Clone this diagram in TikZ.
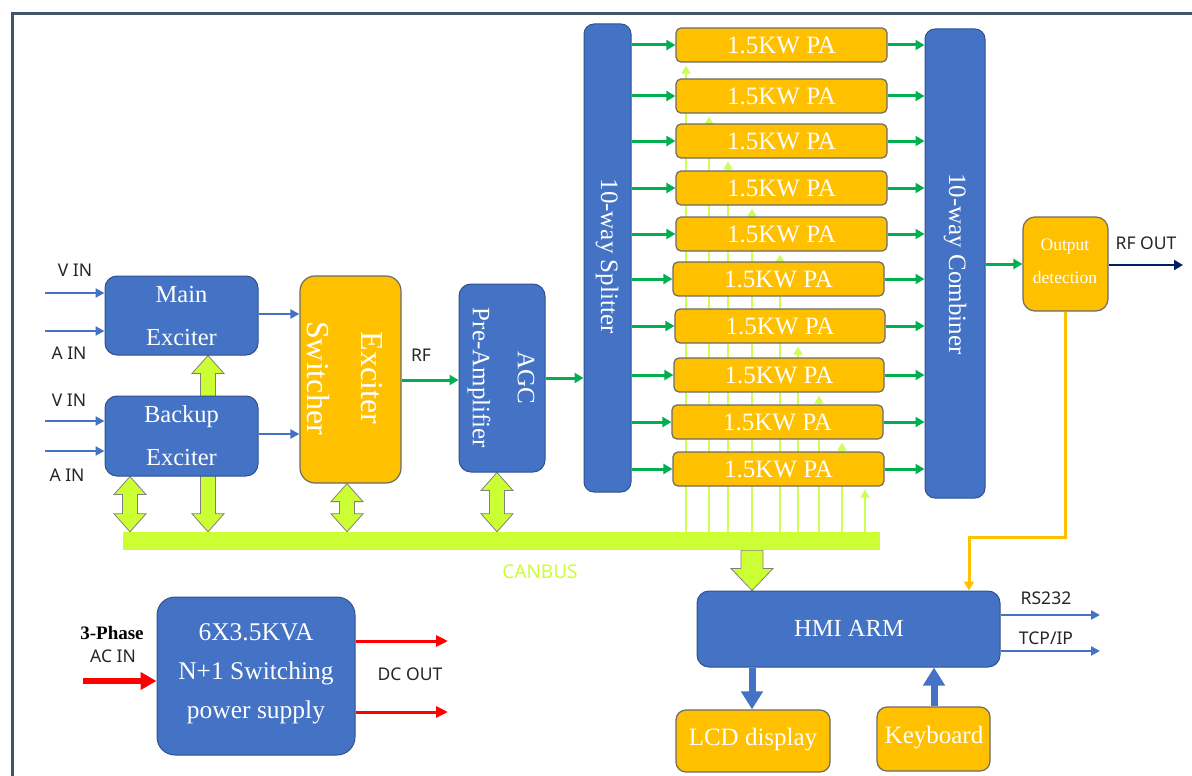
\documentclass[tikz,border=0pt]{standalone}
\usepackage{fontspec}
\setmainfont{Liberation Serif}
\newfontfamily\sansf{Noto Sans}
\usetikzlibrary{arrows.meta,calc,backgrounds}
\definecolor{bblue}{HTML}{4472C4}
\definecolor{bedge}{HTML}{2F528F}
\definecolor{orng}{HTML}{FFC000}
\definecolor{oedge}{HTML}{6B6B6B}
\definecolor{grn}{HTML}{00B050}
\definecolor{lime}{HTML}{CCFF33}
\definecolor{limel}{HTML}{CCFF55}
\definecolor{navy}{HTML}{002060}
\definecolor{redc}{HTML}{FF0000}
\definecolor{framec}{HTML}{44546A}
\definecolor{txt}{HTML}{262626}
\newcommand\dblarr[2]{\draw[blockarr] let \p1=(#1), \p2=(#2) in
  (\x1,\y1) -- (\x1+16pt,\y1-18pt) -- (\x1+7.5pt,\y1-18pt) -- (\x1+7.5pt,\y2+18pt)
  -- (\x1+16pt,\y2+18pt) -- (\x1,\y2) -- (\x1-16pt,\y2+18pt) -- (\x1-7.5pt,\y2+18pt)
  -- (\x1-7.5pt,\y1-18pt) -- (\x1-16pt,\y1-18pt) -- cycle;}
\begin{document}
\begin{tikzpicture}[x=1pt,y=-1pt,
  bluebox/.style={draw=bedge,line width=1pt,fill=bblue,rounded corners=12pt,inner sep=0pt},
  orbox/.style={draw=oedge,line width=1.2pt,fill=orng,rounded corners=12pt,inner sep=0pt},
  pabox/.style={draw=oedge,line width=1.2pt,fill=orng,rounded corners=5pt,inner sep=0pt,
     minimum height=34pt,text=white,font=\fontsize{25pt}{27pt}\selectfont},
  wtext/.style={text=white,align=center,inner sep=0pt},
  lbl/.style={text=txt,inner sep=0pt,font=\sansf\fontsize{17.5pt}{19pt}\selectfont},
  garr/.style={draw=grn,line width=3pt,-{Triangle[width=10pt,length=9pt]}},
  barr/.style={draw=bblue,line width=2.5pt,-{Triangle[width=9pt,length=9pt]}},
  rarr/.style={draw=redc,line width=3pt,-{Triangle[width=11pt,length=12pt]}},
  thinl/.style={draw=limel,line width=2.8pt,-{Triangle[width=9pt,length=8pt]},shorten >=3pt},
  blockarr/.style={draw=gray,line width=0.8pt,fill=lime},
]
\useasboundingbox (0,0) rectangle (1192,776);
\begin{scope}
\clip (0,0) rectangle (1192,776);
\draw[framec,line width=3pt] (12,14) rectangle (1230,820);
\end{scope}

% ---- main nodes
\node[bluebox,minimum width=153pt,minimum height=79pt] (me) at (181.5,315.5) {};
\node[wtext,font=\fontsize{24.5pt}{43pt}\selectfont] (met) at (181.5,316) {Main\\Exciter};
\node[bluebox,minimum width=153pt,minimum height=80pt] (be) at (181.5,436) {};
\node[wtext,font=\fontsize{24.5pt}{43pt}\selectfont] (bet) at (181.5,436) {Backup\\Exciter};
\node[orbox,rounded corners=15pt,minimum width=101pt,minimum height=207pt] (sw) at (350.5,379.5) {};
\node[wtext,rotate=-90,font=\fontsize{32pt}{54pt}\selectfont] (swt) at (345,378) {Exciter\\Switcher};
\node[bluebox,minimum width=86pt,minimum height=188pt] (agc) at (502,378) {};
\node[wtext,rotate=-90,font=\fontsize{25pt}{45pt}\selectfont] (agct) at (501,378) {AGC\\Pre-Amplifier};
\node[bluebox,rounded corners=10pt,minimum width=47pt,minimum height=468pt] (split) at (607.5,258) {};
\node[wtext,rotate=-90,font=\fontsize{25pt}{27pt}\selectfont] (splitt) at (607,256) {10-way Splitter};
\node[bluebox,rounded corners=10pt,minimum width=60pt,minimum height=469pt] (comb) at (955,263.5) {};
\node[wtext,rotate=-90,font=\fontsize{25pt}{27pt}\selectfont] (combt) at (955,264) {10-way Combiner};
\node[orbox,minimum width=85pt,minimum height=94pt] (od) at (1065.5,264) {};
\node[wtext,font=\fontsize{17.5pt}{33pt}\selectfont] (odt) at (1065,261.5) {Output\\detection};

\foreach \i/\cy/\cx/\w in {1/45/781.5/211, 2/96/781.5/211, 3/141/781.5/211, 4/188/781.5/211,
   5/234/781.5/211, 6/279/778.5/211, 7/326/780/210, 8/375/779/210, 9/422/777.5/211, 10/469/778.5/211}{
  \node[pabox,minimum width=\w pt] (pa\i) at (\cx,\cy) {1.5KW PA};
  \draw[garr] (pa\i.west -| split.east) -- (pa\i.west);
  \draw[garr] (pa\i.east) -- (pa\i.east -| comb.west);
}

\node[fill=lime,inner sep=0pt,minimum width=757pt,minimum height=18pt] (bus) at (501.5,541) {};
\node[inner sep=0pt,text=lime,font=\sansf\fontsize{19pt}{21pt}\selectfont] (bust) at (540,572) {CANBUS};

\node[bluebox,minimum width=303pt,minimum height=76pt] (hmi) at (848.5,629) {};
\node[wtext,font=\fontsize{24.5pt}{26pt}\selectfont] (hmit) at (849,628) {HMI ARM};
\node[orbox,rounded corners=10pt,minimum width=154pt,minimum height=62pt] (lcd) at (753,741) {};
\node[wtext,font=\fontsize{25pt}{27pt}\selectfont] (lcdt) at (753,740) {LCD display};
\node[orbox,rounded corners=10pt,minimum width=113pt,minimum height=64pt] (kb) at (933.5,739) {};
\node[wtext,font=\fontsize{25pt}{27pt}\selectfont] (kbt) at (934,738) {Keyboard};

\node[bluebox,rounded corners=18pt,minimum width=198pt,minimum height=158pt] (ps) at (256,676) {};
\node[wtext,font=\fontsize{25.5pt}{39pt}\selectfont] (pst) at (256,674) {6X3.5KVA\\N+1 Switching\\power supply};

% ---- labels
\node[lbl] (vin1) at (75,270) {V IN};
\node[lbl] (ain1) at (69,353) {A IN};
\node[lbl] (vin2) at (69,400) {V IN};
\node[lbl] (ain2) at (67,475) {A IN};
\node[lbl] (rfl) at (421,355) {RF};
\node[lbl] (rfo) at (1146,243) {RF OUT};
\node[lbl] (rs) at (1046,598) {RS232};
\node[lbl] (tcp) at (1046,638) {TCP/IP};
\node[lbl] (dcl) at (410,674) {DC OUT};
\node[lbl] (acl) at (113,656) {AC IN};
\node[inner sep=0pt,text=black,font=\bfseries\fontsize{19pt}{21pt}\selectfont] (ph) at (112,633) {3-Phase};

% ---- coordinates
\coordinate (i1) at (45,293);
\coordinate (i2) at (45,331);
\coordinate (i3) at (45,421);
\coordinate (i4) at (45,451);
\coordinate (rfend) at (1183,265);
\coordinate (bend) at (969,537);
\coordinate (o1) at (1100,615);
\coordinate (o2) at (1100,651);
\coordinate (acs) at (83,681);
\coordinate (dc1) at (448,641);
\coordinate (dc2) at (448,712);
\coordinate (xa) at (130,0);
\coordinate (xb) at (208,0);
\coordinate (xc) at (347,0);
\coordinate (xd) at (497,0);
\coordinate (xe) at (752,0);
\coordinate (xk) at (934,0);
\coordinate (y1) at (0,314);
\coordinate (y2) at (0,434);
\coordinate (y3) at (0,380);

% ---- connectors
\draw[barr] (i1) -- (i1 -| me.west);
\draw[barr] (i2) -- (i2 -| me.west);
\draw[barr] (i3) -- (i3 -| be.west);
\draw[barr] (i4) -- (i4 -| be.west);
\draw[barr] (me.east |- y1) -- (sw.west |- y1);
\draw[barr] (be.east |- y2) -- (sw.west |- y2);
\draw[garr] (sw.east |- y3) -- (agc.west |- y3);
\draw[garr] (agc.east) -- (agc.east -| split.west);
\draw[garr] (comb.east |- od.west) -- (od.west);
\draw[draw=navy,line width=2.5pt,-{Triangle[width=10pt,length=9pt]}] (od.east |- rfend) -- (rfend);
\draw[draw=orng,line width=3pt,-{Triangle[width=10pt,length=9pt]}] (od.south) |- (bend) -- (bend |- hmi.north);
\draw[barr] (hmi.east |- o1) -- (o1);
\draw[barr] (hmi.east |- o2) -- (o2);
\draw[draw=bblue,line width=7pt,-{Triangle[width=21pt,length=18pt]}] (hmi.south -| xe) -- (lcd.north -| xe);
\draw[draw=bblue,line width=7pt,-{Triangle[width=21pt,length=18pt]}] (kb.north -| xk) -- (hmi.south -| xk);
\draw[draw=redc,line width=6pt,-{Triangle[width=17pt,length=16pt]}] (acs) -- (acs -| ps.west);
\draw[rarr] (ps.east |- dc1) -- (dc1);
\draw[rarr] (ps.east |- dc2) -- (dc2);

\begin{scope}[on background layer]
  \fill[white] (0,0) rectangle (1192,776);
  \foreach \x/\k in {686/1, 709/2, 728/3, 752/4, 780/5, 798/7, 819/8, 842/9, 865/10}{
    \coordinate (tx\k) at (\x,0);
    \draw[thinl] (bus.north -| tx\k) -- (pa\k.south -| tx\k);
  }
  \dblarr{be.south -| xa}{bus.north -| xa}
  \dblarr{me.south -| xb}{bus.north -| xb}
  \dblarr{sw.south -| xc}{bus.north -| xc}
  \dblarr{agc.south -| xd}{bus.north -| xd}
  \draw[blockarr] let \p1=(bus.south -| xe), \p2=(hmi.north -| xe) in
    (\x1-11pt,\y1) -- (\x1+11pt,\y1) -- (\x1+11pt,\y2+22pt) -- (\x1+21pt,\y2+22pt)
    -- (\x1,\y2) -- (\x1-21pt,\y2+22pt) -- (\x1-11pt,\y2+22pt) -- cycle;
\end{scope}
\end{tikzpicture}
\end{document}
